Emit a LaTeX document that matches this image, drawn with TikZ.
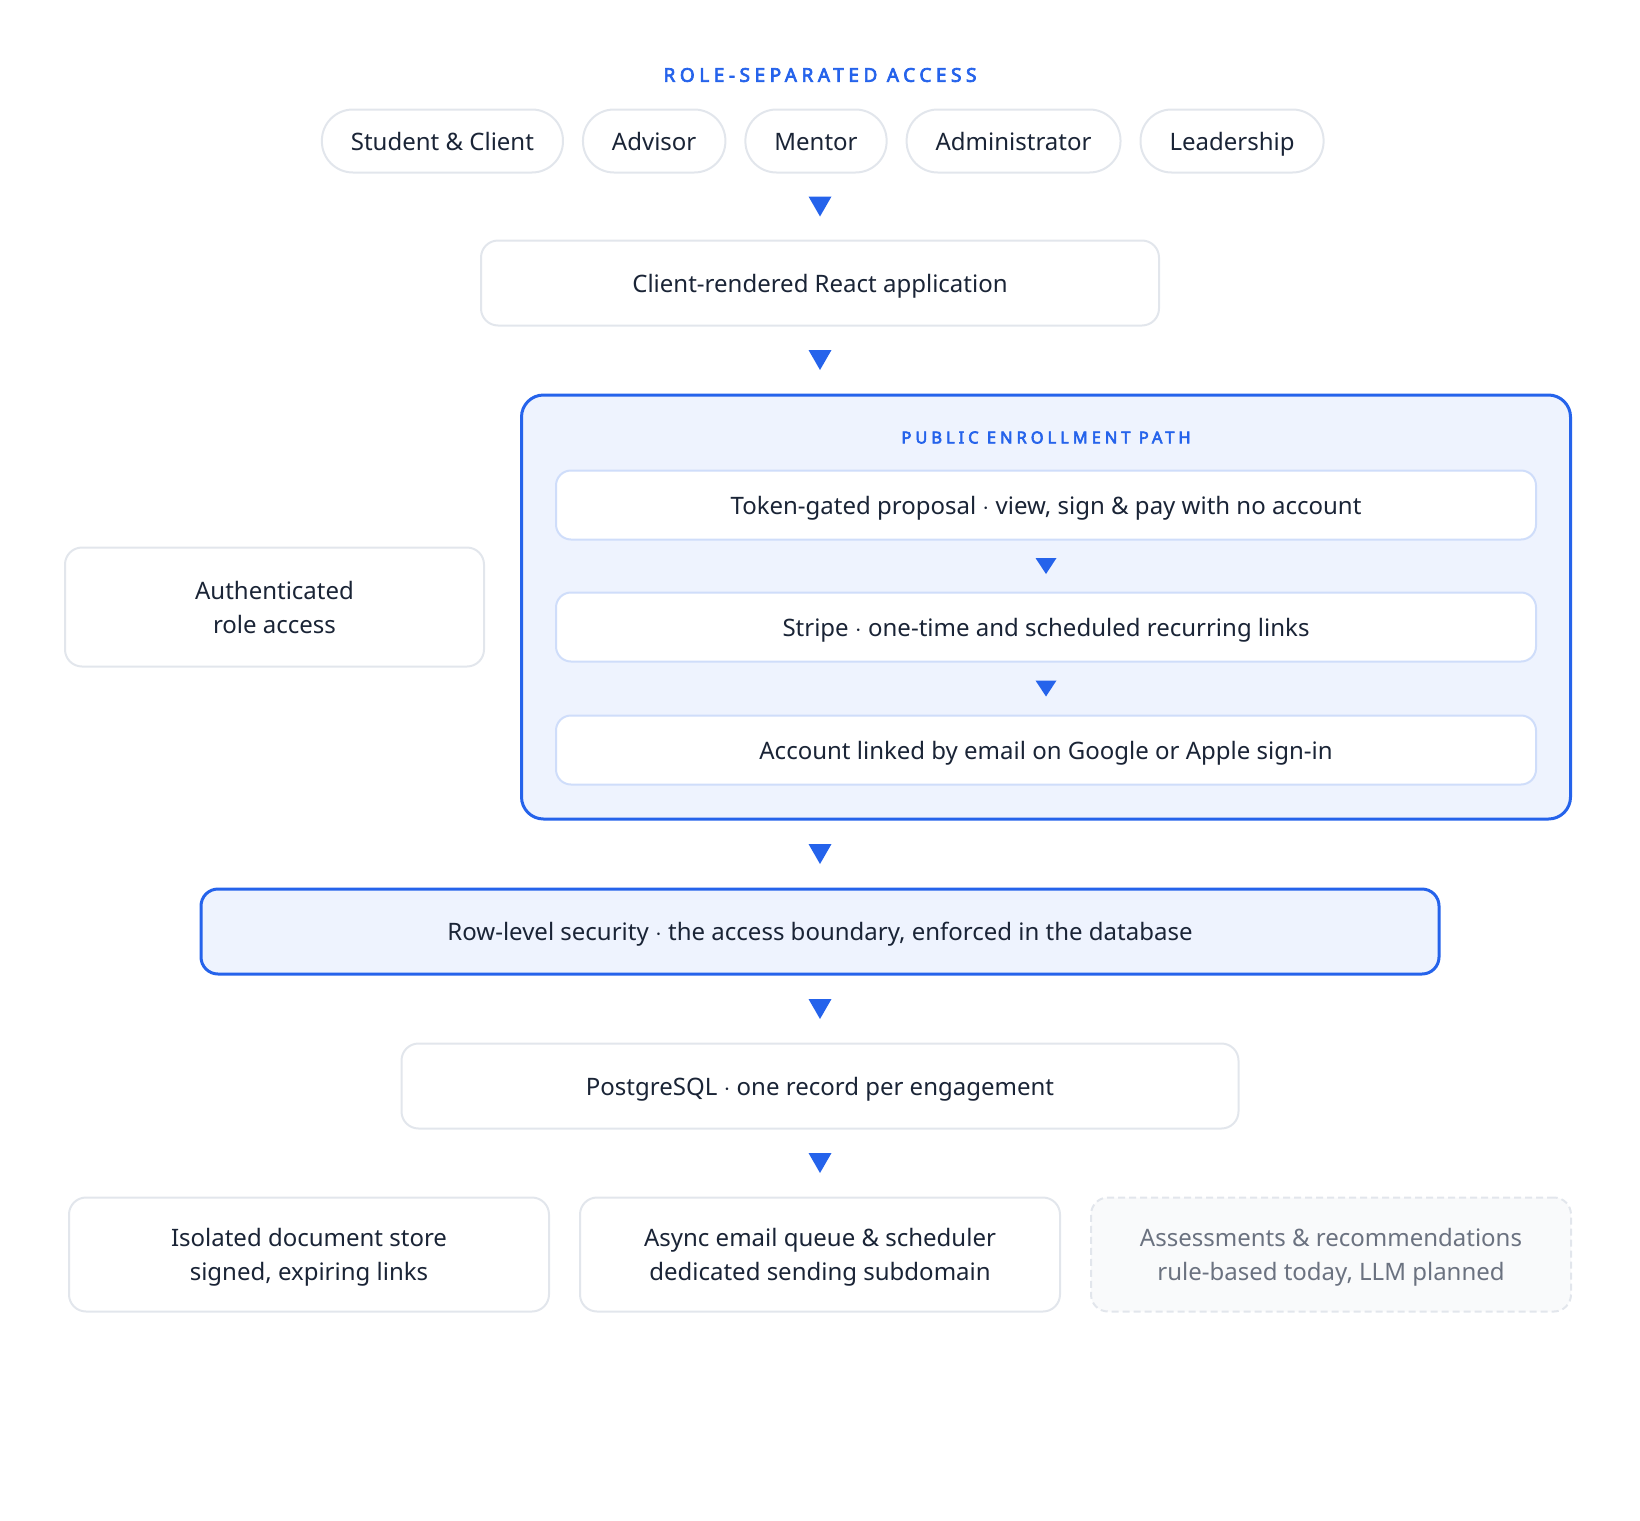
\documentclass[tikz,border=0pt]{standalone}
\usepackage{fontspec}
\setmainfont{Noto Sans}
\newfontfamily\trackfont[LetterSpace=24, FakeBold=3.6]{Noto Sans}
\usetikzlibrary{positioning}

\definecolor{flowblue}{HTML}{2563EB}
\definecolor{inkdark}{HTML}{1A2436}
\definecolor{inkmuted}{HTML}{6B7280}
\definecolor{edgegray}{HTML}{E2E6EC}
\definecolor{edgeblue}{HTML}{CFDDFA}
\definecolor{washblue}{HTML}{EEF3FE}
\definecolor{washgray}{HTML}{F9FAFB}

\begin{document}
\begin{tikzpicture}[
    x=1pt, y=1pt,
    node distance=67pt and 18pt, % gap between layers, gap between role pills
    every node/.style={align=center, text=inkdark, font=\fontsize{24}{34}\selectfont},
    oneline/.style={text height=18pt, text depth=0pt},
    seclabel/.style={text=flowblue, font=\trackfont\fontsize{16.5}{20}\selectfont, inner sep=0pt},
    rolepill/.style={oneline, draw=edgegray, line width=2pt, fill=white, rounded corners=31pt, minimum height=63pt, inner xsep=29pt},
    layerbox/.style={draw=edgegray, line width=2pt, fill=white, rounded corners=17pt, minimum height=85pt},
    groupbox/.style={draw=flowblue, line width=3pt, fill=washblue, rounded corners=22pt},
    pathbox/.style={oneline, draw=edgeblue, line width=2pt, fill=white, rounded corners=15pt, minimum width=980pt, minimum height=69pt},
    guardbox/.style={oneline, draw=flowblue, line width=3pt, fill=washblue, rounded corners=17pt, minimum height=85pt},
    servicebox/.style={layerbox, text height=52pt, text depth=0pt, minimum width=480pt, minimum height=114pt},
    plannedbox/.style={servicebox, draw=edgegray, fill=washgray, dash pattern=on 7pt off 4pt, text=inkmuted},
    flowtip/.pic={\fill[flowblue] (-11.5,10) -- (11.5,10) -- (0,-10) -- cycle;},
    smalltip/.pic={\fill[flowblue] (-10.5,8) -- (10.5,8) -- (0,-8) -- cycle;}
]
\useasboundingbox (0,0) rectangle (1640,-1520);

% Roles
\node[seclabel, font=\trackfont\fontsize{19}{22}\selectfont] (roletitle) at (820,-75) {ROLE-SEPARATED ACCESS};
\node[rolepill] (mentor) at (816,-141) {Mentor};
\node[rolepill, left=of mentor] (advisor) {Advisor};
\node[rolepill, left=of advisor] (student) {Student \& Client};
\node[rolepill, right=of mentor] (admin) {Administrator};
\node[rolepill, right=of admin] (leader) {Leadership};

% Application
\node[layerbox, oneline, minimum width=678pt] (client) at (820,-283) {Client-rendered React application};

% Public enrollment group
\node[groupbox, minimum width=1049pt, minimum height=424pt, below=of client, xshift=226pt] (pep) {};
\node[seclabel] (peplabel) at ([yshift=-44pt]pep.north) {PUBLIC ENROLLMENT PATH};
\node[pathbox, below=76pt of pep.north] (token) {Token-gated proposal $\cdot$ view, sign \& pay with no account};
\node[pathbox, below=51pt of token] (stripe) {Stripe $\cdot$ one-time and scheduled recurring links};
\node[pathbox, below=52pt of stripe] (account) {Account linked by email on Google or Apple sign-in};

\node[layerbox, minimum width=419pt, minimum height=119pt, left=35pt of pep] (auth) {Authenticated\\role access};

% Data layer
\coordinate (pepfoot) at (client |- pep.south);
\node[guardbox, minimum width=1238pt, below=of pepfoot] (rls) {Row-level security $\cdot$ the access boundary, enforced in the database};
\node[layerbox, oneline, minimum width=837pt, below=of rls] (pg) {PostgreSQL $\cdot$ one record per engagement};

% Services
\node[servicebox, below=of pg] (mailq) {Async email queue \& scheduler\\dedicated sending subdomain};
\node[servicebox, left=29pt of mailq] (docs) {Isolated document store\\signed, expiring links};
\node[plannedbox, right=29pt of mailq] (assess) {Assessments \& recommendations\\rule-based today, LLM planned};

% Flow markers
\path (client.north |- mentor.south) -- pic[pos=.5]{flowtip} (client.north);
\path (client.south) -- pic[pos=.5]{flowtip} (client.south |- pep.north);
\path (pepfoot) -- pic[pos=.5]{flowtip} (rls.north);
\path (rls.south) -- pic[pos=.5]{flowtip} (pg.north);
\path (pg.south) -- pic[pos=.5]{flowtip} (mailq.north);
\path (token.south) -- pic[pos=.5]{smalltip} (stripe.north);
\path (stripe.south) -- pic[pos=.5]{smalltip} (account.north);

\end{tikzpicture}
\end{document}
